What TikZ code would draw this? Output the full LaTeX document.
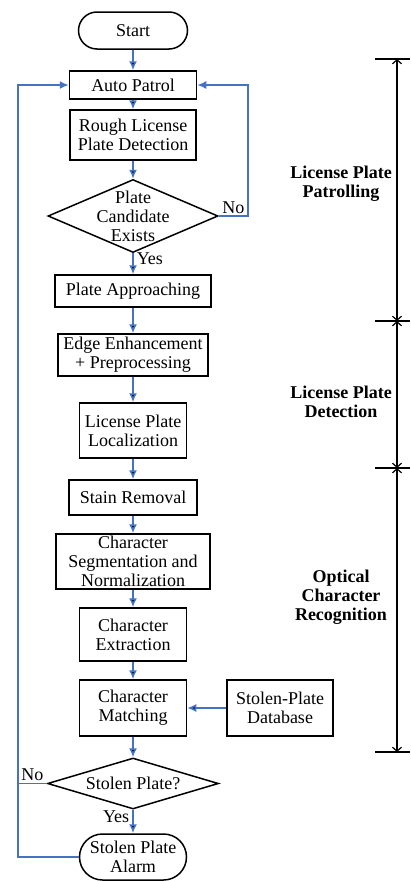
\documentclass[tikz,border=0pt]{standalone}
\usepackage{fontspec}
\setmainfont{Liberation Serif}
\usepackage{tikz}
\usetikzlibrary{arrows.meta,shapes.geometric,shapes.misc}

\definecolor{flowblue}{RGB}{68,114,196}

\begin{document}
\begin{tikzpicture}[x=1pt, y=-1pt, >={Latex[length=9pt,width=8pt]}, semithick, node distance=60pt,
    font=\fontsize{18pt}{19pt}\selectfont]

    \tikzstyle{block}=[rectangle, draw=black, line width=1.5pt, align=center, inner sep=0pt]
    \tikzstyle{terminal}=[rounded rectangle, draw=black, line width=1.5pt, align=center, inner sep=0pt]
    \tikzstyle{decision}=[diamond, draw=black, line width=1.5pt, align=center, inner sep=0pt, aspect=3.4]
    \tikzstyle{flow}=[->, draw=flowblue, line width=1.6pt]
    \tikzstyle{span}=[{Straight Barb[length=4pt,width=9pt]}-{Straight Barb[length=4pt,width=9pt]}, line width=1.2pt]
    \tikzstyle{phase}=[align=center, font=\fontsize{18pt}{19pt}\selectfont\bfseries]

    \useasboundingbox (0,0) rectangle (410,881);

    \node[terminal, minimum width=109pt, minimum height=37pt] (0) at (133,30.5) {Start};
    \node[block, minimum width=127pt, minimum height=28pt]  (1)  [below of=0, node distance=54.5pt] {Auto Patrol};
    \node[block, minimum width=126pt, minimum height=50pt]  (2)  [below of=1, node distance=50pt]   {Rough License\\Plate Detection};
    \node[decision, minimum width=170pt, minimum height=73pt] (3) [below of=2, node distance=81pt] {};
    \node[align=center] (3a) at (3) {Plate\\Candidate\\Exists};
    \node[block, minimum width=156pt, minimum height=32pt]  (4)  [below of=3, node distance=75pt]   {Plate Approaching};
    \node[block, minimum width=150pt, minimum height=42pt]  (5)  [below of=4, node distance=64pt]   {Edge Enhancement\\+ Preprocessing};
    \node[block, minimum width=107pt, minimum height=55pt]  (6)  [below of=5, node distance=75.5pt] {License Plate\\Localization};
    \node[block, minimum width=128pt, minimum height=35pt]  (7)  [below of=6, node distance=67pt]   {Stain Removal};
    \node[block, minimum width=154pt, minimum height=55pt]  (8)  [below of=7, node distance=64pt]   {Character\\Segmentation and\\Normalization};
    \node[block, minimum width=107pt, minimum height=53pt]  (9)  [below of=8, node distance=73pt]   {Character\\Extraction};
    \node[block, minimum width=107pt, minimum height=56pt]  (10) [below of=9, node distance=73.5pt] {Character\\Matching};
    \node[block, minimum width=106pt, minimum height=56pt]  (11) [right of=10, node distance=147pt] {Stolen-Plate\\Database};
    \node[decision, minimum width=171pt, minimum height=51pt] (12) [below of=10, node distance=75.5pt] {Stolen Plate?};
    \node[terminal, minimum width=107pt, minimum height=46pt] (13) [below of=12, node distance=73.5pt] {Stolen Plate\\Alarm};

    \coordinate (14) at (18,85);
    \coordinate (15) at (248,85);

    \path[flow] (0) edge (1)
        (1) edge (2)
        (2) edge (3)
        (3) edge node[right, pos=0.25, inner sep=3pt] {Yes} (4)
        (4) edge (5)
        (5) edge (6)
        (6) edge (7)
        (7) edge (8)
        (8) edge (9)
        (9) edge (10)
        (11) edge (10)
        (10) edge (12)
        (12) edge node[left, pos=0.3, inner sep=3pt] {Yes} (13)
    ;

    \draw[flow] (3.east) -| node[pos=0.25, above, inner sep=2pt] {No} (15) -- (1.east);
    \draw[flow, -] (12.west) -- node[above, inner sep=2pt] {No} (12.west -| 14);
    \draw[flow] (13.west) -| (14) -- (1.west);

    % phase brackets
    \foreach \y in {59,321,468,752}
        \draw[line width=1.2pt] (375,\y) -- (410,\y);
    \foreach \a/\b in {59/321,321/468,468/752}
        \draw[span] (397,\a) -- (397,\b);

    \node[phase] (16) at (341,184) {License Plate\\Patrolling};
    \node[phase] (17) at (341,402) {License Plate\\Detection};
    \node[phase] (18) at (341,597) {Optical\\Character\\Recognition};
\end{tikzpicture}
\end{document}
